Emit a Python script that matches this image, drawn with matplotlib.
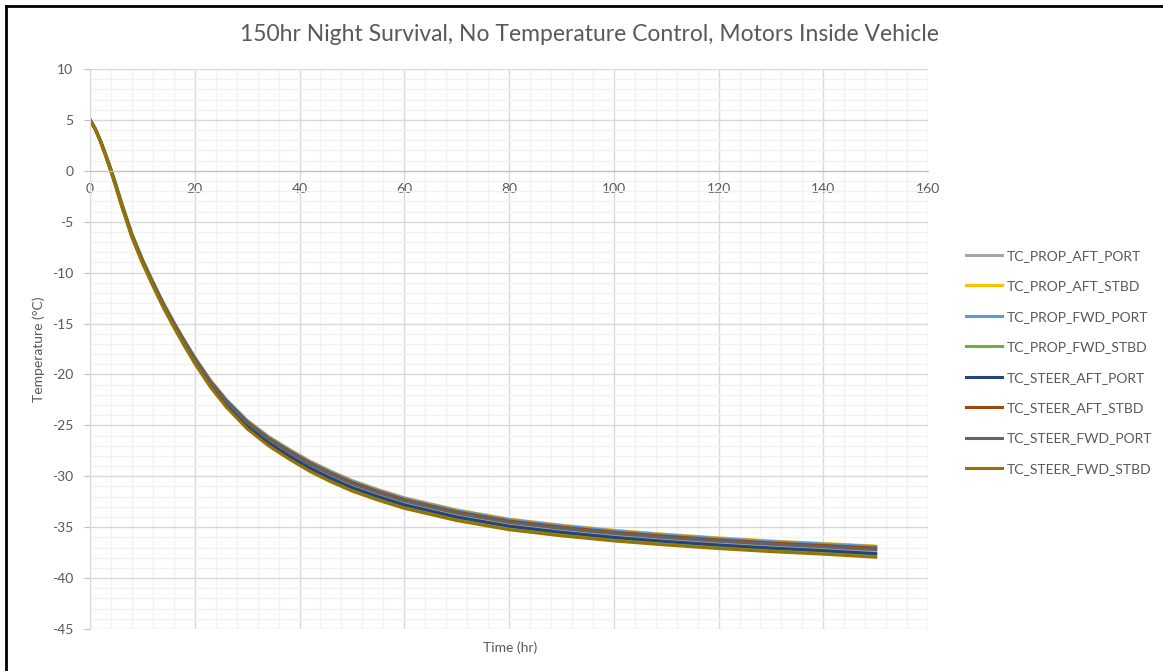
import numpy as np
import matplotlib.pyplot as plt
from matplotlib.lines import Line2D
from matplotlib.ticker import MultipleLocator

# temps in degC
t_hr = [0, 1, 2, 3, 4, 5, 6, 8, 10, 12, 14, 16, 18, 20, 23, 26, 30, 34, 38, 42,
        46, 50, 55, 60, 70, 80, 90, 100, 110, 120, 130, 140, 150]

prop_aft_port = [5.0, 4.1, 2.9, 1.5, 0.0, -1.6, -3.3, -6.4, -8.9, -11.1, -13.2, -15.1, -16.9, -18.6, -20.9, -22.8,
                 -24.9, -26.5, -27.8, -29.0, -30.0, -30.9, -31.8, -32.6, -33.8, -34.7, -35.3, -35.8, -36.2, -36.55,
                 -36.85, -37.1, -37.4]
prop_aft_stbd = [5.0, 4.12, 2.94, 1.55, 0.07, -1.51, -3.2, -6.26, -8.73, -10.9, -12.97, -14.85, -16.62, -18.3, -20.57,
                 -22.44, -24.5, -26.06, -27.33, -28.51, -29.5, -30.4, -31.3, -32.1, -33.3, -34.2, -34.8, -35.3, -35.7,
                 -36.05, -36.35, -36.6, -36.85]
prop_fwd_port = [5.0, 4.11, 2.93, 1.55, 0.06, -1.52, -3.21, -6.28, -8.75, -10.92, -13.0, -14.87, -16.65, -18.33, -20.6,
                 -22.48, -24.54, -26.11, -27.38, -28.56, -29.55, -30.45, -31.35, -32.15, -33.35, -34.25, -34.85, -35.35,
                 -35.75, -36.1, -36.4, -36.65, -36.9]
prop_fwd_stbd = [5.0, 4.13, 2.98, 1.62, 0.18, -1.38, -3.05, -6.15, -8.68, -10.92, -13.08, -15.04, -16.9, -18.65, -21.02,
                 -22.98, -25.14, -26.79, -28.12, -29.34, -30.35, -31.25, -32.15, -32.95, -34.15, -35.05, -35.65, -36.15,
                 -36.55, -36.9, -37.2, -37.45, -37.7]
steer_aft_port = [5.0, 4.09, 2.89, 1.48, -0.03, -1.63, -3.34, -6.45, -8.97, -11.18, -13.29, -15.2, -17.01, -18.72,
                  -21.03, -22.94, -25.06, -26.67, -27.99, -29.19, -30.2, -31.1, -32.0, -32.8, -34.0, -34.9, -35.5, -36.0,
                  -36.4, -36.75, -37.05, -37.3, -37.6]
steer_aft_stbd = [5.0, 4.11, 2.92, 1.53, 0.04, -1.55, -3.24, -6.32, -8.8, -10.98, -13.06, -14.95, -16.73, -18.42,
                  -20.7, -22.58, -24.66, -26.24, -27.52, -28.71, -29.7, -30.6, -31.5, -32.3, -33.5, -34.4, -35.0, -35.5,
                  -35.9, -36.25, -36.55, -36.8, -37.05]
steer_fwd_port = [5.0, 4.11, 2.91, 1.52, 0.03, -1.57, -3.26, -6.35, -8.84, -11.03, -13.12, -15.01, -16.8, -18.49,
                  -20.78, -22.67, -24.76, -26.34, -27.63, -28.83, -29.82, -30.72, -31.62, -32.42, -33.62, -34.52,
                  -35.12, -35.62, -36.02, -36.37, -36.67, -36.92, -37.2]
steer_fwd_stbd = [5.0, 4.08, 2.86, 1.44, -0.08, -1.69, -3.41, -6.55, -9.08, -11.32, -13.45, -15.38, -17.2, -18.93,
                  -21.26, -23.2, -25.34, -26.98, -28.31, -29.53, -30.55, -31.45, -32.35, -33.15, -34.35, -35.25,
                  -35.85, -36.35, -36.75, -37.1, -37.4, -37.65, -37.95]

names = ['TC_PROP_AFT_PORT', 'TC_PROP_AFT_STBD', 'TC_PROP_FWD_PORT', 'TC_PROP_FWD_STBD',
         'TC_STEER_AFT_PORT', 'TC_STEER_AFT_STBD', 'TC_STEER_FWD_PORT', 'TC_STEER_FWD_STBD']
series = [prop_aft_port, prop_aft_stbd, prop_fwd_port, prop_fwd_stbd,
          steer_aft_port, steer_aft_stbd, steer_fwd_port, steer_fwd_stbd]
couleurs = ['#A5A5A5', '#FFC000', '#5B9BD5', '#70AD47', '#264478', '#9E480E', '#636363', '#997300']

txt = '#595959'
plt.rcParams['font.family'] = ['Lato', 'DejaVu Sans']
plt.rcParams['axes.unicode_minus'] = False

fig = plt.figure(figsize=(11.63, 6.71), dpi=100)
ax = fig.add_axes([0.0774, 0.0626, 0.7206, 0.8346])

for nom, y, c in zip(names, series, couleurs):
    ax.plot(t_hr, y, color=c, lw=2.2, label=nom, solid_joinstyle='round')

ax.set_xlim(0, 160)
ax.set_ylim(-45, 10)
ax.xaxis.set_major_locator(MultipleLocator(20))
ax.xaxis.set_minor_locator(MultipleLocator(4))
ax.yaxis.set_major_locator(MultipleLocator(5))
ax.yaxis.set_minor_locator(MultipleLocator(1))
ax.grid(which='major', color='#D9D9D9', lw=1.0, zorder=0)
ax.grid(which='minor', color='#F2F2F2', lw=1.0, zorder=0)
ax.set_axisbelow(True)

# axe x qui croise a y=0
ax.spines['bottom'].set_position(('data', 0))
ax.spines['bottom'].set_color('#BFBFBF')
ax.spines['left'].set_color('#D9D9D9')
ax.spines['top'].set_visible(False)
ax.spines['right'].set_visible(False)
ax.tick_params(axis='x', which='both', length=0, pad=9, labelsize=10, labelcolor=txt)
ax.tick_params(axis='y', which='major', length=4, color='#BFBFBF', pad=8, labelsize=10, labelcolor=txt)
ax.tick_params(axis='y', which='minor', length=0)

fig.text(0.5065, 0.949, '150hr Night Survival, No Temperature Control, Motors Inside Vehicle',
         ha='center', va='center', fontsize=16.5, color=txt)
fig.text(0.4385, 0.034, 'Time (hr)', ha='center', va='center', fontsize=10, color=txt)
fig.text(0.033, 0.48, 'Temperature (\u00b0C)', ha='center', va='center', rotation=90, fontsize=10, color=txt)

handles = [Line2D([], [], color=c, lw=2.2) for c in couleurs]
fig.legend(handles, names, loc='center left', bbox_to_anchor=(0.82, 0.46), frameon=False,
           fontsize=10, labelcolor=txt, handlelength=2.6, handletextpad=0.35, labelspacing=1.33)

# bordure noire (haut et gauche) de la capture
fig.add_artist(Line2D([0.005, 0.005], [0, 0.991], transform=fig.transFigure, color='black', lw=2))
fig.add_artist(Line2D([0.005, 1], [0.991, 0.991], transform=fig.transFigure, color='black', lw=2))

fig.savefig('out.png', dpi=100)
